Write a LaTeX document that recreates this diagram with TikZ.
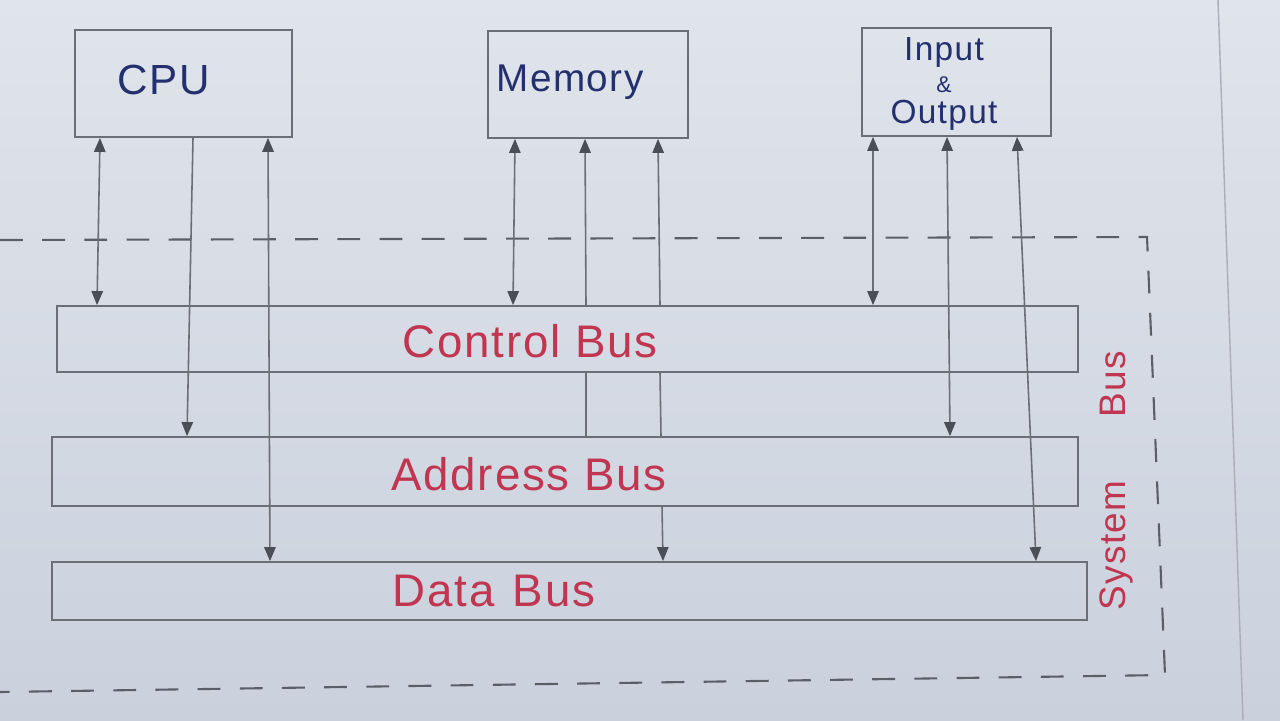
\documentclass[tikz,border=0pt]{standalone}
\usepackage{fontspec}
\setmainfont{Liberation Sans}
\newfontfamily\hand[LetterSpace=4]{Liberation Sans}
\usetikzlibrary{arrows.meta}
\definecolor{paperT}{HTML}{E0E4EB}
\definecolor{paperB}{HTML}{CAD1DD}
\definecolor{ink}{HTML}{6A6E77}
\definecolor{tipc}{HTML}{4A4E57}
\definecolor{dashc}{HTML}{5A5E67}
\definecolor{penblue}{HTML}{24306E}
\definecolor{penred}{HTML}{C0354F}
\definecolor{edgec}{HTML}{A9AEB8}
\begin{document}
\begin{tikzpicture}[x=0.02cm,y=-0.02cm,
  box/.style={draw=ink, line width=1pt, rectangle, inner sep=0pt},
  bus/.style={draw=ink, line width=1pt, rectangle, inner sep=0pt},
  wire/.style={draw=ink, line width=0.9pt, >={Triangle[length=8pt,width=6.5pt,color=tipc]}},
  bluetxt/.style={text=penblue, inner sep=0pt, font=\hand\fontsize{24}{30}\selectfont},
  iotxt/.style={text=penblue, inner sep=0pt, align=center, font=\hand\fontsize{19}{18}\selectfont},
  redtxt/.style={text=penred, inner sep=0pt, font=\hand\fontsize{26}{30}\selectfont},
  systxt/.style={text=penred, inner sep=0pt, font=\hand\fontsize{21}{26}\selectfont},
  sysbox/.style={draw=dashc, line width=1.2pt, dash pattern=on 13pt off 11pt},
  paperedge/.style={draw=edgec, line width=0.8pt}
]
\useasboundingbox (0,0) rectangle (1280,720);
\shade[top color=paperT, bottom color=paperB] (0,0) rectangle (1280,720);
\draw[paperedge] (1218,0) -- (1243,720);

% components
\node[box, minimum width=4.34cm, minimum height=2.14cm] (cpu) at (183.5,83.5) {};
\node[bluetxt] (cputxt) at (164,80) {CPU};
\node[box, minimum width=4.0cm, minimum height=2.14cm] (mem) at (588,84.5) {};
\node[bluetxt, font=\hand\fontsize{22}{30}\selectfont] (memtxt) at (570,82) {Memory};
\node[box, minimum width=3.78cm, minimum height=2.16cm] (io) at (956.5,82) {};
\node[iotxt] (iotext) at (944,84) {Input\\{\fontsize{13}{13}\selectfont\&}\\Output};

% buses
\node[bus, minimum width=20.42cm, minimum height=1.32cm] (ctrl) at (567.5,339) {};
\node[redtxt] (ctrltxt) at (530,341) {Control Bus};
\node[bus, minimum width=20.52cm, minimum height=1.38cm] (addr) at (565,471.5) {};
\node[redtxt] (addrtxt) at (529,474) {Address Bus};
\node[bus, minimum width=20.7cm, minimum height=1.16cm] (data) at (569.5,591) {};
\node[redtxt] (datatxt) at (494,591) {Data\hspace{0.4em}Bus};

% system bus frame and label
\coordinate (sysTL) at (0,240);
\coordinate (sysTR) at (1147,237);
\coordinate (sysBR) at (1165,675);
\coordinate (sysBL) at (0,692);
\draw[sysbox] (sysTL) -- (sysTR) -- (sysBR) -- (sysBL);
\node[systxt, rotate=90] (systxtnode) at (1116,481) {System\hspace{1.7em}Bus};

% CPU connectors
\draw[wire,<->] (100,0 |- cpu.south) -- (97,0 |- ctrl.north);
\draw[wire,->] (193,0 |- cpu.south) -- (187,0 |- addr.north);
\draw[wire,<->] (268,0 |- cpu.south) -- (270,0 |- data.north);

% Memory connectors
\draw[wire,<->] (515,0 |- mem.south) -- (513,0 |- ctrl.north);
\draw[wire,<-] (585,0 |- mem.south) -- (586,0 |- ctrl.north);
\draw[wire] (586,0 |- ctrl.south) -- (586,0 |- addr.north);
\draw[wire,<-] (658,0 |- mem.south) -- (660,0 |- ctrl.north);
\draw[wire] (660,0 |- ctrl.south) -- (661,0 |- addr.north);
\draw[wire,->] (662,0 |- addr.south) -- (663,0 |- data.north);

% I/O connectors
\draw[wire,<->] (873,0 |- io.south) -- (873,0 |- ctrl.north);
\draw[wire,<->] (947,0 |- io.south) -- (950,0 |- addr.north);
\draw[wire,<->] (1017,0 |- io.south) -- (1036,0 |- data.north);
\end{tikzpicture}
\end{document}
